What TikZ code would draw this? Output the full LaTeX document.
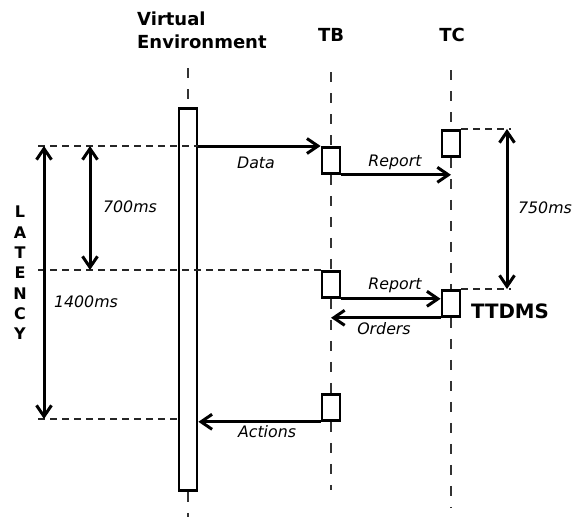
\documentclass[tikz,border=0pt]{standalone}
\usepackage{fontspec}
\setmainfont{DejaVu Sans}
\usetikzlibrary{arrows.meta,positioning,calc}

\tikzset{
  actbox/.style={draw, line width=2.8pt, minimum width=18pt, minimum height=26pt, inner sep=0pt, anchor=north},
  lifeline/.style={line width=1.4pt, black!80, dash pattern=on 10pt off 11pt},
  guide/.style={line width=1.4pt, black!85, dash pattern=on 7pt off 5pt},
  msg/.style={-{Straight Barb[length=11pt,width=15pt]}, line width=3pt},
  span/.style={{Straight Barb[length=11pt,width=15pt]}-{Straight Barb[length=11pt,width=15pt]}, line width=3pt},
  head/.style={font=\fontsize{18}{23}\selectfont\bfseries, inner sep=0pt},
  lbl/.style={font=\fontsize{15.8}{18}\selectfont\itshape, inner sep=0pt, anchor=base}
}

\begin{document}
\begin{tikzpicture}[x=1pt,y=-1pt]
      \useasboundingbox (0,0) rectangle (578,517);

      % headers
      \node[head, align=left, anchor=west] (vehead) at (137,30) {Virtual\\Environment};
      \node[head] (tbhead) at (331,35) {TB};
      \node[head] (tchead) at (452,35) {TC};

      % activation boxes
      \node[actbox, minimum height=382pt] (ve) at (188,107) {};
      \node[actbox] (tb1) at (331,146) {};
      \node[actbox] (tb2) at (331,270) {};
      \node[actbox] (tb3) at (331,393) {};
      \node[actbox] (tc1) at (451,129) {};
      \node[actbox] (tc2) at (451,289) {};

      % lifelines
      \coordinate (vetop) at (188,68);
      \coordinate (vebot) at (188,517);
      \coordinate (tbtop) at (331,72);
      \coordinate (tbbot) at (331,490);
      \coordinate (tctop) at (451,70);
      \coordinate (tcbot) at (451,508);
      \draw[lifeline] (vetop) -- (ve.north);
      \draw[lifeline] (ve.south) -- (vebot);
      \draw[lifeline] (tbtop) -- (tb1.north);
      \draw[lifeline] (tb1.south) -- (tb2.north);
      \draw[lifeline] (tb2.south) -- (tb3.north);
      \draw[lifeline] (tb3.south) -- (tbbot);
      \draw[lifeline] (tctop) -- (tc1.north);
      \draw[lifeline] (tc1.south) -- (tc2.north);
      \draw[lifeline] (tc2.south) -- (tcbot);

      % messages
      \draw[msg] (ve.east |- tb1.north) -- (tb1.north west);
      \draw[msg] (tb1.south east) -- (tb1.south east -| tc1.south);
      \draw[msg] (tb2.south east) -- (tb2.south east -| tc2.west);
      \draw[msg] (tc2.south west) -- (tc2.south west -| tb2.south);
      \draw[msg] (tb3.south west) -- (tb3.south west -| ve.east);

      \node[lbl] (data) at (256,168) {Data};
      \node[lbl] (report1) at (395,166) {Report};
      \node[lbl] (report2) at (395,289) {Report};
      \node[lbl] (orders) at (384,334) {Orders};
      \node[lbl] (actions) at (267,437) {Actions};

      % timing guides
      \coordinate (g1) at (38,146);
      \coordinate (g2) at (38,270);
      \coordinate (g3) at (38,419);
      \coordinate (g4) at (511,129);
      \draw[guide] (g1) -- (g1 -| ve.east);
      \draw[guide] (g2) -- (tb2.north west);
      \draw[guide] (g3) -- (g3 -| ve.west);
      \draw[guide] (tc1.north east) -- (g4);
      \draw[guide] (tc2.north east) -- (tc2.north east -| g4);

      \coordinate (lat1) at (44,146);
      \coordinate (lat2) at (44,419);
      \coordinate (half1) at (90,146);
      \coordinate (half2) at (90,270);
      \coordinate (tt1) at (507,129);
      \coordinate (tt2) at (507,289);
      \draw[span] (lat1) -- (lat2);
      \draw[span] (half1) -- (half2);
      \draw[span] (tt1) -- (tt2);

      \node[lbl] (t700) at (130,212) {700ms};
      \node[lbl] (t1400) at (86,307) {1400ms};
      \node[lbl] (t750) at (545,213) {750ms};

      \node[font=\fontsize{16}{20.3}\selectfont\bfseries, align=center, inner sep=0pt] (latency) at (20,273) {L\\A\\T\\E\\N\\C\\Y};
      \node[font=\fontsize{19.8}{22}\selectfont\bfseries, inner sep=0pt] (ttdms) at (510,311) {TTDMS};
    \end{tikzpicture}
\end{document}
